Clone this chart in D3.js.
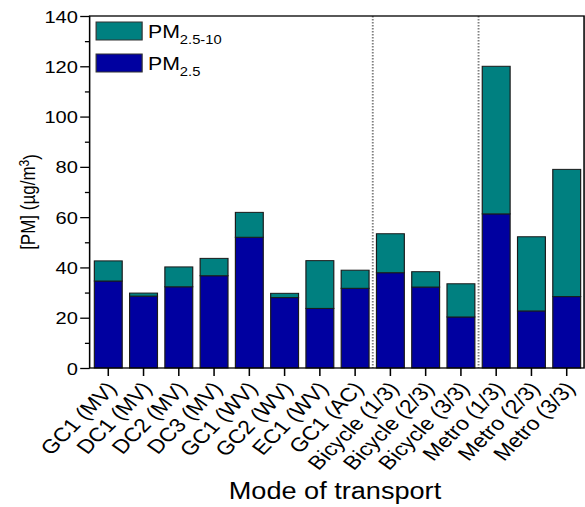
<!DOCTYPE html>
<html>
<head>
<meta charset="utf-8">
<script src="https://cdn.jsdelivr.net/npm/d3@7.9.0/dist/d3.min.js"></script>
<style>
  body { margin: 0; background: #fff; }
  text { font-family: "Liberation Sans", Arial, sans-serif; fill: #000; }
</style>
</head>
<body>
<svg id="chart"></svg>
<script>
// values (µg/m3)
const categories = ["GC1 (MV)", "DC1 (MV)", "DC2 (MV)", "DC3 (MV)", "GC1 (WV)", "GC2 (WV)", "EC1 (WV)",
    "GC1 (AC)", "Bicycle (1/3)", "Bicycle (2/3)", "Bicycle (3/3)", "Metro (1/3)", "Metro (2/3)", "Metro (3/3)"];
const pm25 = [34.6, 28.6, 32.3, 36.7, 52.0, 28.0, 23.7, 31.7, 37.9, 32.2, 20.3, 61.3, 22.7, 28.4];
const pm25to10 = [8.0, 1.2, 7.9, 6.9, 9.9, 1.7, 19.0, 7.2, 15.5, 6.1, 13.2, 58.7, 29.5, 50.6];
const yTicks = [0, 20, 40, 60, 80, 100, 120, 140];
const yMinorTicks = [10, 30, 50, 70, 90, 110, 130];
const dividers = ["Bicycle (1/3)", "Metro (1/3)"];

const colors = { pm25: "#0000a0", pm25to10: "#008080" };

// the original picture is stretched sideways, so the drawing is too
const W = 496, H = 507;
const svg = d3.select("#chart")
    .attr("width", 585)
    .attr("height", 507)
    .attr("viewBox", `0 0 ${W} ${H}`)
    .attr("preserveAspectRatio", "none");

const plot = { left: 76, right: 495.2, top: 16, bottom: 368 };

const x = d3.scaleBand()
    .domain(categories)
    .range([77, 495.3])
    .paddingInner(0.21)
    .paddingOuter(0.1);

const y = d3.scaleLinear()
    .domain([0, 140])
    .range([plot.bottom, plot.top]);

const rows = categories.map((c, i) => ({ cat: c, pm25: pm25[i], pm25to10: pm25to10[i] }));
const stack = d3.stack().keys(["pm25", "pm25to10"])(rows);

// divider lines
svg.selectAll(".divider")
    .data(dividers)
    .enter()
    .append("line")
    .attr("x1", d => x(d) - x.step() * x.paddingInner() / 2)
    .attr("x2", d => x(d) - x.step() * x.paddingInner() / 2)
    .attr("y1", plot.top)
    .attr("y2", plot.bottom)
    .attr("stroke", "#808080")
    .attr("stroke-width", 1.6)
    .attr("stroke-dasharray", "1.5,1.5");

svg.selectAll(".series")
    .data(stack)
    .enter()
    .append("g")
    .attr("fill", d => colors[d.key])
    .selectAll("rect")
    .data(d => d)
    .enter()
    .append("rect")
    .attr("x", d => x(d.data.cat))
    .attr("width", x.bandwidth())
    .attr("y", d => y(d[1]))
    .attr("height", d => y(d[0]) - y(d[1]))
    .attr("stroke", "#1a1a1a")
    .attr("stroke-width", 1);

// frame
svg.append("rect")
    .attr("x", plot.left)
    .attr("y", plot.top)
    .attr("width", plot.right - plot.left)
    .attr("height", plot.bottom - plot.top)
    .attr("fill", "none")
    .attr("stroke", "#000")
    .attr("stroke-width", 1.3);

// y axis
const yAxis = svg.append("g")
    .attr("transform", `translate(${plot.left},0)`)
    .call(d3.axisLeft(y).tickValues(yTicks).tickSize(8).tickSizeOuter(0).tickPadding(2));
yAxis.select(".domain").remove();
yAxis.selectAll("line").attr("stroke-width", 1.3);
yAxis.selectAll("text")
    .style("font-size", "17px")
    .attr("dy", "0.36em");

const yMinor = svg.append("g")
    .attr("transform", `translate(${plot.left},0)`)
    .call(d3.axisLeft(y).tickValues(yMinorTicks).tickSize(4).tickFormat(""));
yMinor.select(".domain").remove();
yMinor.selectAll("line").attr("stroke-width", 1.3);

// x axis
const xAxis = svg.append("g")
    .attr("transform", `translate(0,${plot.bottom})`)
    .call(d3.axisBottom(x).tickSize(8).tickSizeOuter(0));
xAxis.select(".domain").remove();
xAxis.selectAll("line").attr("stroke-width", 1.3);
xAxis.selectAll("text")
    .style("font-size", "19.5px")
    .style("text-anchor", "end")
    .attr("x", 0)
    .attr("y", 0)
    .attr("dy", 0)
    .attr("transform", "translate(8,21) rotate(-50)");

// axis titles
const yLabel = svg.append("text")
    .attr("transform", `translate(30,202) rotate(-90)`)
    .style("text-anchor", "middle")
    .style("font-size", "17px");
yLabel.append("tspan").text("[PM] (µg/m");
yLabel.append("tspan").attr("dy", "-0.45em").style("font-size", "12px").text("3");
yLabel.append("tspan").attr("dy", "0.45em").text(")");

svg.append("text")
    .attr("x", 284)
    .attr("y", 499)
    .style("text-anchor", "middle")
    .style("font-size", "23px")
    .text("Mode of transport");

// legend
const legendItems = [
    { key: "pm25to10", sub: "2.5-10" },
    { key: "pm25", sub: "2.5" }
];
const legend = svg.selectAll(".legend")
    .data(legendItems)
    .enter()
    .append("g")
    .attr("transform", (d, i) => `translate(81.5,${22 + i * 32})`);

legend.append("rect")
    .attr("width", 39)
    .attr("height", 18)
    .attr("fill", d => colors[d.key])
    .attr("stroke", "#333")
    .attr("stroke-width", 1);

const legendText = legend.append("text")
    .attr("x", 44)
    .attr("y", 16)
    .style("font-size", "18px");
legendText.append("tspan").text("PM");
legendText.append("tspan")
    .attr("dy", "0.45em")
    .style("font-size", "12.5px")
    .text(d => d.sub);
</script>
</body>
</html>
